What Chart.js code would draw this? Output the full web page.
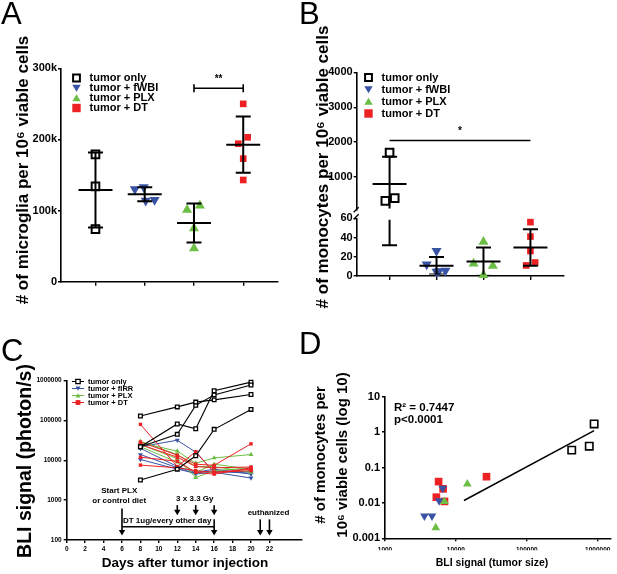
<!DOCTYPE html>
<html>
<head>
<meta charset="utf-8">
<script src="https://cdn.jsdelivr.net/npm/chart.js@4.4.1/dist/chart.umd.min.js"></script>
<style>
  html, body { margin: 0; padding: 0; background: #fff; }
  #wrap { position: relative; width: 617px; height: 574px; }
  #wrap canvas { position: absolute; left: 0; top: 0; }
</style>
</head>
<body>
<div id="wrap">
  <canvas id="chartA" width="617" height="574"></canvas>
  <canvas id="chartBup" width="617" height="574"></canvas>
  <canvas id="chartBlow" width="617" height="574"></canvas>
  <canvas id="chartC" width="617" height="574"></canvas>
  <canvas id="chartD" width="617" height="574"></canvas>
</div>
<script>
const FONT = "'Liberation Sans', Arial, Helvetica, sans-serif";
Chart.defaults.font.family = FONT;
Chart.defaults.font.weight = "bold";
Chart.defaults.color = "#000";
Chart.defaults.animation = false;

// Groups (panels A, B, D)
const groupNames = ["tumor only", "tumor + fWBI", "tumor + PLX", "tumor + DT"];
const groupColors = ["#000000", "#3953a4", "#6cbe45", "#ed2024"];

// Panel A: microglia per 10^6 viable cells
const microglia = [
  [179000, 134000, 74000],
  [130000, 133000, 114000, 115000],
  [101000, 107000, 75000, 47000],
  [250000, 203000, 194000, 173000, 143000]
];
const microgliaJitter = [
  [0, 0, 0],
  [-0.2, -0.02, 0.02, 0.2],
  [-0.14, 0.12, 0, 0],
  [0, 0.09, -0.1, 0, 0]
];
const microgliaTicks = [0, 100000, 200000, 300000];
const microgliaTickLabels = ["0", "100k", "200k", "300k"];
const microgliaSig = [3, 4, 272000, "**"];

// Panel B: monocytes per 10^6 viable cells (broken axis at 60)
const monocytes = [
  [1700, 320, 400],
  [12, 26, 4.5, 5.5, 5],
  [35.5, 13, 10.5, 1],
  [56, 41, 26, 11, 14]
];
const monocytesJitter = [
  [0, -0.09, 0.11],
  [-0.21, 0, 0, 0.19, 0.05],
  [0, -0.21, 0.2, 0],
  [0, 0, 0, -0.09, 0.1]
];
const monocyteBreak = 60;
const monocyteTicksUpper = [1000, 2000, 3000, 4000];
const monocyteTicksLower = [0, 20, 40, 60];
const monocyteSig = [1, 4, 2050, "*"];

// Panel C: BLI signal over time
const bliDays = [8, 12, 14, 16, 20];
const bliTumorOnly = [
  [130000, 220000, 290000, 330000, 450000],
  [22000, 45000, 240000, 440000, 780000],
  [22000, 82000, 62000, 560000, 920000],
  [3200, 6000, 13000, 60000, 190000]
];
const bliFirr = [
  [22000, 32000, 16000, 5000, 3600],
  [14000, 6500, 4500, 5200, 4800],
  [10500, 6000, 4800, 5500, 5200],
  [20000, 7000, 5000, 6000, 4500]
];
const bliPlx = [
  [28000, 17000, 8500, 11500, 14000],
  [25000, 11000, 3700, 5500, 6500],
  [22000, 9000, 5000, 8000, 6000],
  [30000, 14000, 7000, 7000, 5000]
];
const bliDt = [
  [80000, 7000, 16500, 5000, 5500],
  [29000, 13500, 8000, 7500, 26000],
  [12000, 9500, 5000, 4500, 6500],
  [7600, 6500, 5500, 5000, 6000],
  [25000, 12000, 7000, 6500, 6800]
];
const bliLegend = ["tumor only", "tumor + fIRR", "tumor + PLX", "tumor + DT"];
const dayTicks = [0, 2, 4, 6, 8, 10, 12, 14, 16, 18, 20, 22];
const bliTicks = [100, 1000, 10000, 100000, 1000000];
// timeline notes: [day, top value, bottom value]
const cArrows = [[6, 620, 130], [12, 750, 420], [14, 750, 420], [16, 750, 420], [16, 330, 130], [21, 330, 130], [22, 330, 130]];
const cBracket = [6, 16, 215];
const cNotes = [["Start PLX", 5.7, 1750], ["or control diet", 5.7, 960], ["3 x 3.3 Gy", 13.9, 1070],
                ["DT 1ug/every other day", 10.9, 300], ["euthanized", 21.9, 480]];

// Panel D: monocytes vs BLI
const dTumorOnlyX = [430000, 760000, 890000];
const dTumorOnlyY = [0.31, 0.40, 1.7];
const dFwbiX = [3600, 4600, 5800, 6500];
const dFwbiY = [0.0043, 0.0043, 0.0115, 0.026];
const dPlxX = [14500, 5200, 6900];
const dPlxY = [0.034, 0.002, 0.011];
const dDtX = [5700, 27000, 5300, 6900, 6600];
const dDtY = [0.040, 0.055, 0.0145, 0.011, 0.025];
const dFitX = [13000, 890000];
const dFitY = [0.0117, 1.1];
const dTicksX = [1000, 10000, 100000, 1000000];
const dTicksY = [0.001, 0.01, 0.1, 1, 10];
const dTickLabelsY = ["0.001", "0.01", "0.1", "1", "10"];

// ---------- helpers ----------
function meanOf(a) { return a.reduce((s, v) => s + v, 0) / a.length; }
function sdOf(a) {
  const m = meanOf(a);
  return Math.sqrt(a.reduce((s, v) => s + (v - m) * (v - m), 0) / (a.length - 1));
}
function bold(px) { return "bold " + px + "px " + FONT; }

function drawMarker(ctx, g, x, y, r, lw) {
  ctx.save();
  ctx.beginPath();
  if (g === 0 || g === 3) {
    ctx.rect(x - r, y - r, 2 * r, 2 * r);
  } else if (g === 1) {
    ctx.moveTo(x - r, y - r * 0.8); ctx.lineTo(x + r, y - r * 0.8); ctx.lineTo(x, y + r * 0.9); ctx.closePath();
  } else {
    ctx.moveTo(x - r, y + r * 0.8); ctx.lineTo(x + r, y + r * 0.8); ctx.lineTo(x, y - r * 0.9); ctx.closePath();
  }
  if (g === 0) {
    ctx.fillStyle = "#fff"; ctx.fill();
    ctx.lineWidth = lw; ctx.strokeStyle = "#000"; ctx.stroke();
  } else {
    ctx.fillStyle = groupColors[g]; ctx.fill();
  }
  ctx.restore();
}

function drawTexts(ctx, items) {
  items.forEach(t => {
    ctx.save();
    ctx.font = t.font;
    ctx.fillStyle = "#000";
    ctx.textAlign = t.align || "left";
    ctx.textBaseline = "middle";
    ctx.translate(t.x, t.y);
    if (t.rot) ctx.rotate(t.rot * Math.PI / 180);
    ctx.fillText(t.text, 0, 0);
    ctx.restore();
  });
}

function textLayer(items) {
  return { id: "textLayer", afterDraw(chart) { drawTexts(chart.ctx, typeof items === "function" ? items(chart) : items); } };
}

function groupLegend(x, y, step, size, fontPx) {
  return {
    id: "groupLegend",
    afterDraw(chart) {
      const ctx = chart.ctx;
      groupNames.forEach((name, g) => {
        const yy = y + g * step;
        drawMarker(ctx, g, x, yy, g === 0 ? size - 0.8 : size, 2);
        ctx.font = bold(fontPx);
        ctx.fillStyle = "#000";
        ctx.textBaseline = "middle";
        ctx.fillText(name, x + 13, yy);
      });
    }
  };
}

// mean +/- SD bars and significance line, drawn through the scales
function meanSdLayer(values, sig, sigCaps) {
  return {
    id: "meanSd",
    afterDatasetsDraw(chart) {
      const { ctx, chartArea, scales: { x, y } } = chart;
      ctx.save();
      ctx.beginPath();
      ctx.rect(chartArea.left - 30, chartArea.top + 1.5, chartArea.width + 60, chartArea.height - 3);
      ctx.clip();
      ctx.strokeStyle = "#000";
      ctx.lineWidth = 2;
      values.forEach((vals, g) => {
        const m = meanOf(vals), s = sdOf(vals);
        const cx = x.getPixelForValue(g + 1);
        const pm = y.getPixelForValue(m);
        const pt = y.getPixelForValue(m + s);
        const pb = y.getPixelForValue(m - s);
        ctx.beginPath();
        ctx.moveTo(cx, pt); ctx.lineTo(cx, pb);
        ctx.moveTo(cx - 7.5, pt); ctx.lineTo(cx + 7.5, pt);
        ctx.moveTo(cx - 7.5, pb); ctx.lineTo(cx + 7.5, pb);
        ctx.moveTo(cx - 17, pm); ctx.lineTo(cx + 17, pm);
        ctx.stroke();
      });
      ctx.restore();
      if (sig) {
        const py = y.getPixelForValue(sig[2]);
        if (py >= chartArea.top - 20 && py <= chartArea.bottom) {
          const x1 = x.getPixelForValue(sig[0]), x2 = x.getPixelForValue(sig[1]);
          ctx.save();
          ctx.strokeStyle = "#000"; ctx.lineWidth = 1.6;
          ctx.beginPath();
          ctx.moveTo(x1, py); ctx.lineTo(x2, py);
          if (sigCaps) {
            ctx.moveTo(x1, py - 4); ctx.lineTo(x1, py + 4);
            ctx.moveTo(x2, py - 4); ctx.lineTo(x2, py + 4);
          }
          ctx.stroke();
          ctx.font = bold(10);
          ctx.fillStyle = "#000";
          ctx.textAlign = "center"; ctx.textBaseline = "middle";
          ctx.fillText(sig[3], (x1 + x2) / 2, py - 9);
          ctx.restore();
        }
      }
    }
  };
}

const groupStyle = [
  { pointStyle: "rect", pointRotation: 0, pointBackgroundColor: "#fff", pointBorderColor: "#000", pointBorderWidth: 2 },
  { pointStyle: "triangle", pointRotation: 180, pointBackgroundColor: groupColors[1], pointBorderWidth: 0 },
  { pointStyle: "triangle", pointRotation: 0, pointBackgroundColor: groupColors[2], pointBorderWidth: 0 },
  { pointStyle: "rect", pointRotation: 0, pointBackgroundColor: groupColors[3], pointBorderWidth: 0 }
];
const groupRadius = [5.4, 5.8, 5.8, 4.7];

function groupDatasets(values, jitter, keep) {
  return values.map((vals, g) => Object.assign({
    label: groupNames[g],
    data: vals.map((v, i) => ({ x: g + 1 + jitter[g][i], y: v })).filter(p => keep(p.y)),
    pointRadius: groupRadius[g],
    showLine: false,
    clip: false,
    order: 4 - g
  }, groupStyle[g]));
}

function axisStyle(fontPx, tickLen, pad) {
  return {
    border: { display: true, color: "#000", width: 1.6 },
    grid: { display: true, drawOnChartArea: false, drawTicks: true, tickLength: tickLen, color: "#000", lineWidth: 1.4 },
    ticks: { font: { size: fontPx, weight: "bold" }, color: "#000", padding: pad, autoSkip: false, maxRotation: 0 }
  };
}

function fixTicks(list) {
  return scale => { scale.ticks = list.map(v => ({ value: v })); };
}

function categoryX(height, display) {
  const ax = axisStyle(10, 4, 0);
  ax.ticks.callback = () => "";
  return Object.assign(ax, {
    type: "linear", min: 0.3, max: 4.7, display: display,
    afterBuildTicks: fixTicks([1, 2, 3, 4]),
    afterFit: s => { s.height = height; }
  });
}

// ---------- Panel A ----------
const aY = axisStyle(11, 3, 1);
aY.ticks.callback = v => microgliaTickLabels[microgliaTicks.indexOf(v)];
new Chart(document.getElementById("chartA"), {
  type: "scatter",
  data: { datasets: groupDatasets(microglia, microgliaJitter, () => true) },
  options: {
    responsive: false,
    layout: { padding: { left: 0, right: 339.3, top: 68.3, bottom: 282.3 } },
    plugins: { legend: { display: false }, tooltip: { enabled: false } },
    scales: {
      x: categoryX(10, true),
      y: Object.assign(aY, {
        type: "linear", min: 0, max: 300000,
        afterBuildTicks: fixTicks(microgliaTicks),
        afterFit: s => { s.width = 61; }
      })
    }
  },
  plugins: [
    meanSdLayer(microglia, microgliaSig, true),
    groupLegend(76.5, 78, 10, 4.2, 11),
    textLayer([
      { text: "A", x: 1, y: 15, font: "31px " + FONT },
      { text: "# of microglia per 10\u2076 viable cells", x: 23, y: 170, rot: -90, align: "center", font: bold(17) }
    ])
  ]
});

// ---------- Panel B (upper segment) ----------
const bYu = axisStyle(11, 3, 1);
bYu.ticks.callback = v => String(v);
new Chart(document.getElementById("chartBup"), {
  type: "scatter",
  data: { datasets: groupDatasets(monocytes, monocytesJitter, v => v >= monocyteBreak) },
  options: {
    responsive: false,
    layout: { padding: { left: 0, right: 53.7, top: 72.3, bottom: 364 } },
    plugins: { legend: { display: false }, tooltip: { enabled: false } },
    scales: {
      x: categoryX(0, false),
      y: Object.assign(bYu, {
        type: "linear", min: monocyteBreak, max: 4000,
        afterBuildTicks: fixTicks(monocyteTicksUpper),
        afterFit: s => { s.width = 356.7; }
      })
    }
  },
  plugins: [
    meanSdLayer(monocytes, monocyteSig, false),
    groupLegend(368.5, 77.5, 12, 4.2, 11),
    textLayer([
      { text: "B", x: 299, y: 15, font: "31px " + FONT },
      { text: "# of monocytes per 10\u2076 viable cells", x: 323, y: 167, rot: -90, align: "center", font: bold(17) }
    ])
  ]
});

// ---------- Panel B (lower segment) ----------
const bYl = axisStyle(11, 3, 1);
bYl.ticks.callback = v => String(v);
new Chart(document.getElementById("chartBlow"), {
  type: "scatter",
  data: { datasets: groupDatasets(monocytes, monocytesJitter, v => v < monocyteBreak) },
  options: {
    responsive: false,
    layout: { padding: { left: 0, right: 53.7, top: 218.3, bottom: 288 } },
    plugins: { legend: { display: false }, tooltip: { enabled: false } },
    scales: {
      x: categoryX(10, true),
      y: Object.assign(bYl, {
        type: "linear", min: 0, max: monocyteBreak,
        afterBuildTicks: fixTicks(monocyteTicksLower),
        afterFit: s => { s.width = 356.7; }
      })
    }
  },
  plugins: [
    meanSdLayer(monocytes, null, false),
    {
      id: "axisBreak",
      afterDraw(chart) {
        const ctx = chart.ctx, ax = chart.chartArea.left, top = chart.chartArea.top;
        ctx.save();
        ctx.strokeStyle = "#000"; ctx.lineWidth = 1.3;
        ctx.beginPath();
        ctx.moveTo(ax - 3, top - 6); ctx.lineTo(ax + 2, top - 11);
        ctx.moveTo(ax - 3, top + 1); ctx.lineTo(ax + 2, top - 4);
        ctx.stroke();
        ctx.restore();
      }
    }
  ]
});

// ---------- Panel C ----------
const bliGroups = [bliTumorOnly, bliFirr, bliPlx, bliDt];
const bliStyle = [
  { color: "#000", radius: 2.6, style: "rect", rot: 0, fill: "#fff", bw: 1.3 },
  { color: groupColors[1], radius: 2.8, style: "triangle", rot: 180, fill: groupColors[1], bw: 0 },
  { color: groupColors[2], radius: 2.8, style: "triangle", rot: 0, fill: groupColors[2], bw: 0 },
  { color: groupColors[3], radius: 2.4, style: "rect", rot: 0, fill: groupColors[3], bw: 0 }
];
const bliOrder = [0, 3, 2, 1];
const cDatasets = [];
bliGroups.forEach((mice, g) => {
  const st = bliStyle[g];
  mice.forEach(vals => {
    cDatasets.push({
      label: bliLegend[g],
      data: vals.map((v, i) => ({ x: bliDays[i], y: v })),
      showLine: true,
      borderColor: st.color,
      borderWidth: g === 0 ? 1.1 : 1,
      pointStyle: st.style,
      pointRotation: st.rot,
      pointRadius: st.radius,
      pointBackgroundColor: st.fill,
      pointBorderColor: st.color,
      pointBorderWidth: st.bw,
      clip: false,
      order: bliOrder[g]
    });
  });
});

const cX = axisStyle(6.5, 3, 2);
cX.ticks.callback = v => String(v);
const cY = axisStyle(6.5, 3, 2);
cY.ticks.callback = v => String(v);

function arrowDown(ctx, x, y1, y2) {
  ctx.beginPath();
  ctx.moveTo(x, y1); ctx.lineTo(x, y2 - 4);
  ctx.stroke();
  ctx.beginPath();
  ctx.moveTo(x - 3.2, y2 - 5.5); ctx.lineTo(x + 3.2, y2 - 5.5); ctx.lineTo(x, y2); ctx.closePath();
  ctx.fill();
}

new Chart(document.getElementById("chartC"), {
  type: "scatter",
  data: { datasets: cDatasets },
  options: {
    responsive: false,
    layout: { padding: { left: 0, right: 315.3, top: 380.7, bottom: 22 } },
    plugins: { legend: { display: false }, tooltip: { enabled: false } },
    scales: {
      x: Object.assign(cX, {
        type: "linear", min: 0, max: 25.5,
        afterBuildTicks: fixTicks(dayTicks),
        afterFit: s => { s.height = 12; }
      }),
      y: Object.assign(cY, {
        type: "logarithmic", min: 100, max: 1000000,
        afterBuildTicks: fixTicks(bliTicks),
        afterFit: s => { s.width = 66.7; }
      })
    }
  },
  plugins: [
    {
      id: "timeline",
      afterDraw(chart) {
        const { ctx, scales: { x, y } } = chart;
        ctx.save();
        ctx.strokeStyle = "#000"; ctx.fillStyle = "#000"; ctx.lineWidth = 1.6;
        cArrows.forEach(a => arrowDown(ctx, x.getPixelForValue(a[0]), y.getPixelForValue(a[1]), y.getPixelForValue(a[2])));
        const by = y.getPixelForValue(cBracket[2]);
        ctx.beginPath();
        ctx.moveTo(x.getPixelForValue(cBracket[0]), by); ctx.lineTo(x.getPixelForValue(cBracket[1]), by);
        ctx.stroke();
        ctx.font = bold(8);
        ctx.textAlign = "center"; ctx.textBaseline = "middle";
        cNotes.forEach(n => ctx.fillText(n[0], x.getPixelForValue(n[1]), y.getPixelForValue(n[2])));
        // legend
        ctx.textAlign = "left";
        ctx.font = bold(7.5);
        bliLegend.forEach((name, g) => {
          const yy = 381.5 + g * 7;
          ctx.strokeStyle = bliStyle[g].color; ctx.lineWidth = 1;
          ctx.beginPath(); ctx.moveTo(72, yy); ctx.lineTo(84, yy); ctx.stroke();
          drawMarker(ctx, g, 78, yy, g === 0 ? 2.2 : 2.4, 1.3);
          ctx.fillStyle = "#000";
          ctx.fillText(name, 88, yy);
        });
        ctx.restore();
      }
    },
    textLayer([
      { text: "C", x: 1, y: 352, font: "31px " + FONT },
      { text: "BLI signal (photon/s)", x: 26, y: 461, rot: -90, align: "center", font: bold(19.5) },
      { text: "Days after tumor injection", x: 185, y: 563, align: "center", font: bold(13.5) }
    ])
  ]
});

// ---------- Panel D ----------
function dPoints(xs, ys) { return xs.map((v, i) => ({ x: v, y: ys[i] })); }
const dX = axisStyle(6.5, 3, 5);
dX.ticks.callback = v => String(v);
const dY = axisStyle(11, 3, 2);
dY.ticks.callback = v => dTickLabelsY[dTicksY.indexOf(v)];

new Chart(document.getElementById("chartD"), {
  type: "scatter",
  data: {
    datasets: [
      { label: "fit", data: dPoints(dFitX, dFitY), showLine: true, borderColor: "#000", borderWidth: 1.5, pointRadius: 0, clip: false, order: 5 },
      Object.assign({ label: groupNames[0], data: dPoints(dTumorOnlyX, dTumorOnlyY), pointRadius: 5.2, clip: false, order: 4 }, groupStyle[0], { pointBorderWidth: 1.6 }),
      Object.assign({ label: groupNames[3], data: dPoints(dDtX, dDtY), pointRadius: 5.4, clip: false, order: 3 }, groupStyle[3]),
      Object.assign({ label: groupNames[1], data: dPoints(dFwbiX, dFwbiY), pointRadius: 5, clip: false, order: 2 }, groupStyle[1]),
      Object.assign({ label: groupNames[2], data: dPoints(dPlxX, dPlxY), pointRadius: 5, clip: false, order: 1 }, groupStyle[2])
    ]
  },
  options: {
    responsive: false,
    layout: { padding: { left: 0, right: 5.3, top: 396.7, bottom: 23.7 } },
    plugins: { legend: { display: false }, tooltip: { enabled: false } },
    scales: {
      x: Object.assign(dX, {
        type: "logarithmic", min: 1000, max: 1500000,
        afterBuildTicks: fixTicks(dTicksX),
        afterFit: s => { s.height = 12; }
      }),
      y: Object.assign(dY, {
        type: "logarithmic", min: 0.001, max: 10,
        afterBuildTicks: fixTicks(dTicksY),
        afterFit: s => { s.width = 385; }
      })
    }
  },
  plugins: [
    textLayer([
      { text: "D", x: 299, y: 345, font: "31px " + FONT },
      { text: "# of monocytes per", x: 321, y: 455, rot: -90, align: "center", font: bold(15) },
      { text: "10\u2076 viable cells (log 10)", x: 343, y: 455, rot: -90, align: "center", font: bold(15) },
      { text: "BLI signal (tumor size)", x: 492, y: 563, align: "center", font: bold(10.5) },
      { text: "R\u00b2 = 0.7447", x: 394, y: 408, font: bold(11.5) },
      { text: "p<0.0001", x: 394, y: 420, font: bold(11.5) }
    ])
  ]
});
</script>
</body>
</html>
